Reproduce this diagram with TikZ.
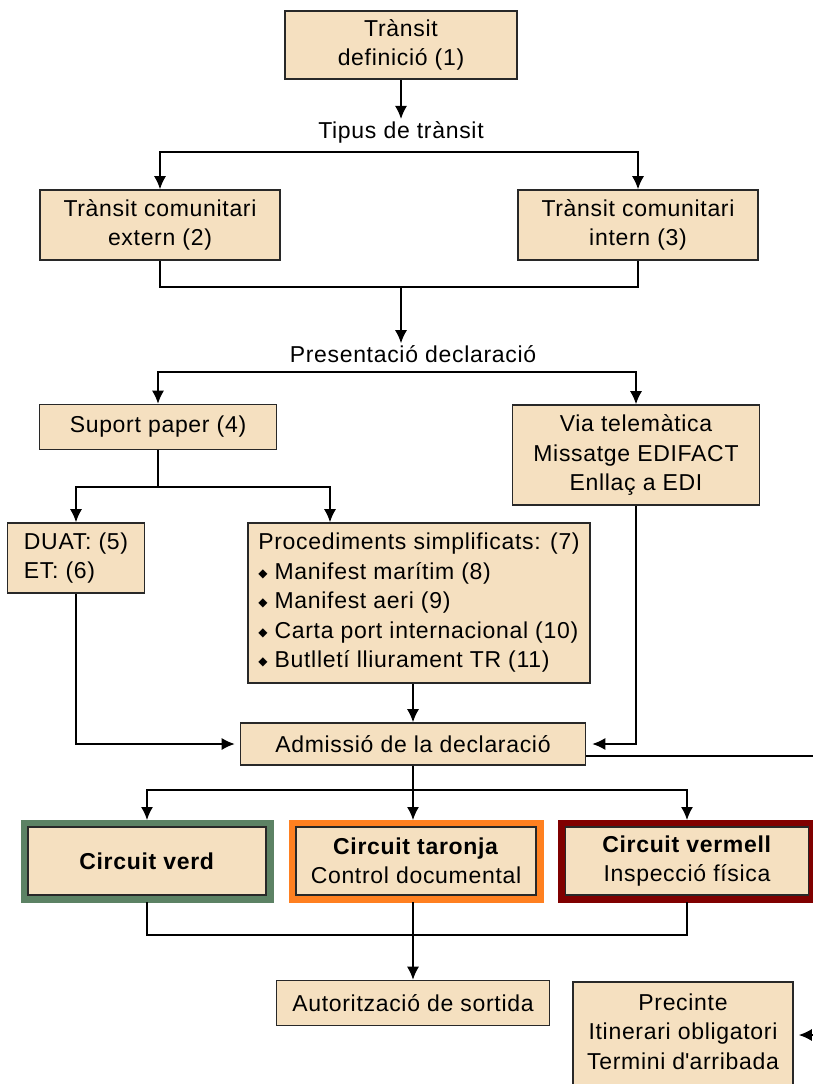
\documentclass[tikz,border=0pt]{standalone}
\usepackage{fontspec}
\setmainfont{Liberation Sans}[LetterSpace=3]
\newfontfamily\symfont{DejaVu Sans}
\usepackage{tikz}
\usetikzlibrary{arrows.meta,positioning}
\definecolor{boxfill}{RGB}{245,224,192}
\definecolor{boxline}{RGB}{40,40,40}
\definecolor{circgreen}{RGB}{92,130,100}
\definecolor{circorange}{RGB}{255,128,32}
\definecolor{circred}{RGB}{128,0,0}
\newcommand{\diagfont}{\fontsize{23}{29.5}\selectfont}
\newcommand{\itm}{{\symfont\fontsize{12}{12}\selectfont\raisebox{2pt}{◆}}\ }
\tikzset{
  every picture/.style = {
    x = 1pt,
    y = -1pt,
  }
  ,
  conn/.style = {
    draw = black,
    line width = 1.4pt
  }
  , % arrow tips
  arr/.style = {
    -{Latex[length=13pt,width=12pt]}
  }
  ,
  arrs/.style = {
    {Latex[length=13pt,width=12pt]}-{Latex[length=13pt,width=12pt]}
  }
  ,
  box/.style = {
    rectangle,
    draw = boxline,
    fill = boxfill,
    line width = 1.6pt,
    font = \diagfont,
    align = center,
    inner sep = 4pt
  }
  , % coloured circuit boxes
  circ/.style = {
    box,
    outer sep = 7pt,
    preaction = {
      draw = #1,
      line width = 15pt
    }
  }
  , % plain texts between the boxes
  label-text/.style = {
    font = \diagfont,
    inner sep = 2pt
  }
}
\begin{document}
\begin{tikzpicture}
    \path[use as bounding box, fill=white] (0,0) rectangle (813,1084);

    \node [box, minimum width=232, minimum height=68] (trans) at (401,45) {Trànsit\\definició (1)};
    \node [label-text] (tipus) at (401,132) {Tipus de trànsit};
    \node [box, minimum width=240, minimum height=70] (ext) at (160,225) {Trànsit comunitari\\extern (2)};
    \node [box, minimum width=240, minimum height=70] (int) at (638,225) {Trànsit comunitari\\intern (3)};
    \node [label-text] (present) at (413,354) {Presentació declaració};
    \node [box, minimum width=237, minimum height=45] (paper) at (158,427) {Suport paper (4)};
    \node [box, minimum width=247, minimum height=100] (tele) at (636,455) {Via telemàtica\\Missatge EDIFACT\\Enllaç a EDI};
    \node [box, minimum width=137, minimum height=70, align=left] (duat) at (76,558) {DUAT: (5)\\ET: (6)};
    \node [box, minimum width=342, minimum height=160, align=left] (proc) at (419,603)
        {Procediments simplificats: (7)\\\itm Manifest marítim (8)\\\itm Manifest aeri (9)\\\itm Carta port internacional (10)\\\itm Butlletí lliurament TR (11)};
    \node [box, minimum width=345, minimum height=42] (adm) at (413,744) {Admissió de la declaració};
    \node [circ=circgreen, minimum width=238, minimum height=68] (verd) at (147,861) {\textbf{Circuit verd}};
    \node [circ=circorange, minimum width=240, minimum height=68] (tar) at (416,861) {\textbf{Circuit taronja}\\Control documental};
    \node [circ=circred, minimum width=243, minimum height=68] (verm) at (687,861) {\textbf{Circuit vermell}\\Inspecció física};
    \node [box, minimum width=273, minimum height=45] (aut) at (413,1003) {Autorització de sortida};
    \node [box, minimum width=220, minimum height=112, text depth=13pt] (prec) at (683,1038) {Precinte\\Itinerari obligatori\\Termini d\textquotesingle arribada};

    \coordinate (split1) at (401,152);
    \coordinate (join1) at (401,287);
    \coordinate (split2) at (401,372);
    \coordinate (split3) at (330,487);
    \coordinate (exitR) at (813,756);
    \coordinate (split4) at (413,790);
    \coordinate (join2) at (413,935);
    \coordinate (exitP) at (813,1035);

    \draw[conn, arr] (trans.south) -- (tipus.north);
    \draw[conn, arrs] (ext.north) |- (split1) -| (int.north);
    \draw[conn] (ext.south) |- (join1) -| (int.south);
    \draw[conn, arr] (join1) -- (join1 |- present.north);
    \draw[conn, arrs] (paper.north) |- (split2) -| (tele.north);
    \draw[conn] (paper.south) -- (paper.south |- split3);
    \draw[conn, arrs] (duat.north) |- (split3) -- (split3 |- proc.north);
    \draw[conn, arr, shorten >=5pt] (duat.south) |- (adm.west);
    \draw[conn, arr] (proc.south -| adm) -- (adm.north);
    \draw[conn, arr, shorten >=6pt] (tele.south) |- (adm.east);
    \draw[conn] (adm.east |- exitR) -- (exitR);
    \draw[conn] (adm.south) -- (split4);
    \draw[conn, arrs] (verd.north) |- (split4) -| (verm.north);
    \draw[conn, arr] (split4) -- (split4 |- tar.north);
    \draw[conn] (verd.south) |- (join2) -| (verm.south);
    \draw[conn] (tar.south -| join2) -- (join2);
    \draw[conn, arr] (join2) -- (aut.north);
    \draw[conn, arr, shorten >=5pt] (exitP) -- (exitP -| prec.east);
\end{tikzpicture}
\end{document}
